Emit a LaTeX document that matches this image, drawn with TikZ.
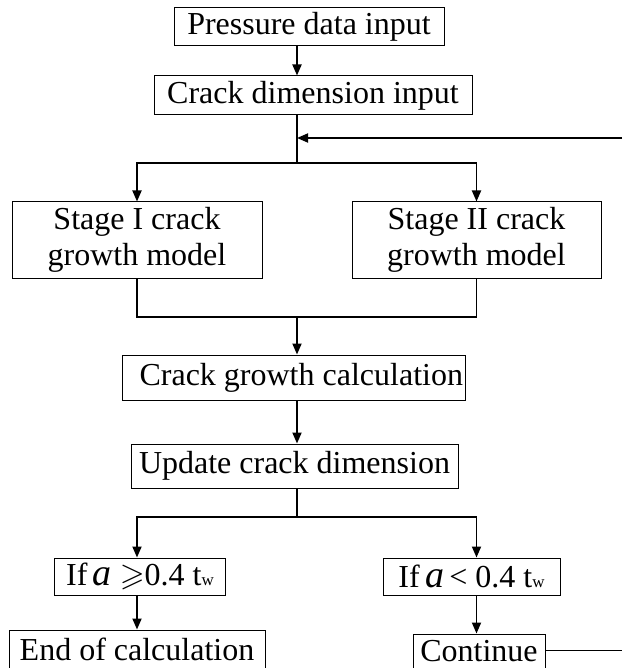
\documentclass[tikz,border=0pt]{standalone}
\usepackage{amssymb}
\usepackage{fontspec}
\setmainfont{Liberation Serif}
\usetikzlibrary{arrows.meta,calc}
\begin{document}
\begin{tikzpicture}[x=1pt,y=-1pt,
  box/.style={draw,line width=1pt,inner sep=0pt,align=center,
    font=\fontsize{32}{36}\selectfont},
  conn/.style={line width=1.8pt},
  arr/.style={conn,-{Triangle[length=11pt,width=9pt]}}]
\useasboundingbox (0,0) rectangle (622,668);
% boxes
\node[box,minimum width=270pt,minimum height=38pt] (b1) at (309,27) {Pressure data input};
\node[box,minimum width=318pt,minimum height=39pt] (b2) at (313,95.5) {Crack dimension input};
\node[box,minimum width=250pt,minimum height=76pt] (st1) at (137,240) {Stage I crack\\growth model};
\node[box,minimum width=249pt,minimum height=76pt] (st2) at (476.5,240) {Stage II crack\\growth model};
\node[box,minimum width=343pt,minimum height=45pt] (cg) at (293.5,377.5) {\makebox[339pt][r]{Crack growth calculation}};
\node[box,minimum width=327pt,minimum height=44pt] (up) at (294.5,466) {Update crack dimension};
\node[box,minimum width=171pt,minimum height=37pt] (ifa) at (140,576.5)
  {If\,{\fontsize{38}{36}\selectfont\itshape a} $\geqslant$0.4 t{\fontsize{17}{17}\selectfont w}};
\node[box,minimum width=177pt,minimum height=37pt] (ifb) at (471.5,576.5)
  {If\,{\fontsize{38}{36}\selectfont\itshape a}\,< 0.4 t{\fontsize{17}{17}\selectfont w}};
\node[box,minimum width=256pt,minimum height=39pt] (end) at (137,649.5) {End of calculation};
\node[box,minimum width=132pt,minimum height=35pt] (cont) at (479,651.5) {Continue};
% junctions
\coordinate (s1) at (297,163);
\coordinate (fb) at (622,138);
\coordinate (m1) at (297,317);
\coordinate (s2) at (297,517);
\coordinate (ce) at (622,650);
% connectors
\draw[arr] (b1.south -| s1) -- (b2.north -| s1);
\draw[conn] (b2.south -| s1) -- (s1);
\draw[arr] (fb) -- (fb -| s1);
\draw[arr] (s1) -| (st1.north);
\draw[arr] (s1) -| (st2.north);
\draw[conn] (st1.south) |- (m1);
\draw[conn] (st2.south) |- (m1);
\draw[arr] (m1) -- (cg.north -| m1);
\draw[arr] (cg.south -| m1) -- (up.north -| m1);
\draw[conn] (up.south -| s2) -- (s2);
\draw[arr] (s2) -| (ifa.north -| st1.south);
\draw[arr] (s2) -| (ifb.north -| st2.south);
\draw[arr] (ifa.south -| st1.south) -- (end.north -| st1.south);
\draw[arr] (ifb.south -| st2.south) -- (cont.north -| st2.south);
\draw[line width=1pt] (cont.east |- ce) -- (ce);
\end{tikzpicture}
\end{document}
